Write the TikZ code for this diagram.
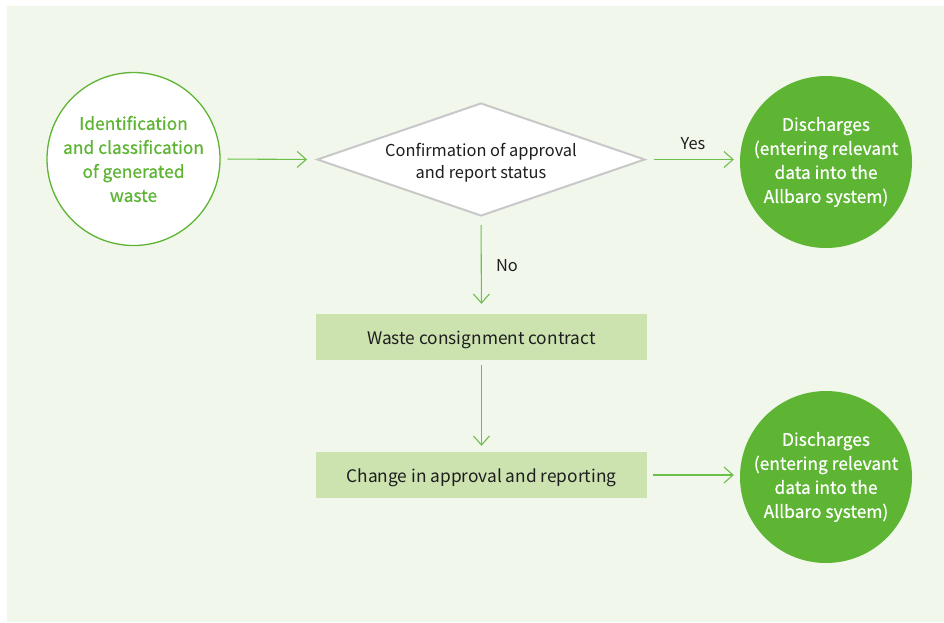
\documentclass[tikz,border=0pt]{standalone}
\usepackage{fontspec}
\setmainfont{Noto Sans CJK KR}
\newfontfamily\medfont[FakeBold=0.6]{Noto Sans CJK KR}
\usetikzlibrary{arrows.meta,shapes.geometric}
\definecolor{bggreen}{HTML}{F2F7EC}
\definecolor{circgreen}{HTML}{5DB533}
\definecolor{linegreen}{HTML}{6CC04A}
\definecolor{boxgreen}{HTML}{CCE3B0}
\definecolor{dgray}{HTML}{C8C8C8}
\definecolor{txt}{HTML}{1E1E1E}
\begin{document}
\begin{tikzpicture}[x=1pt,y=-1pt,
  conn/.style={draw=linegreen, line width=1.1pt, -{Straight Barb[length=9pt,width=16pt,line width=1.1pt]}},
  outcirc/.style={circle, draw=circgreen, line width=1.3pt, fill=white, minimum size=173pt, inner sep=0pt, align=center, text=circgreen, font=\medfont\fontsize{17.4pt}{24pt}\selectfont},
  fillcirc/.style={circle, fill=circgreen, minimum size=172pt, inner sep=0pt, align=center, text=white, font=\medfont\fontsize{17.4pt}{24pt}\selectfont},
  decbox/.style={diamond, draw=dgray, line width=2pt, fill=white, minimum width=328pt, minimum height=113pt, inner sep=0pt},
  stepbox/.style={rectangle, fill=boxgreen, minimum width=331pt, minimum height=46pt, inner sep=0pt, text=txt, text height=17pt, text depth=3pt, font=\fontsize{17.3pt}{22pt}\selectfont},
  lbl/.style={text=txt, font=\fontsize{16.4pt}{22pt}\selectfont, align=center}
]
\useasboundingbox (0,0) rectangle (944,622);
\fill[white] (0,0) rectangle (944,622);
\fill[bggreen] (7,6) rectangle (944,622);

\node[outcirc] (src) at (133.5,159) {Identification\\and classification\\of generated\\waste};
\node[decbox] (dec) at (481,159.5) {};
\node[lbl] (dect) at (481,163) {Confirmation of approval\\and report status};
\node[fillcirc] (dis1) at (826,162) {Discharges\\(entering relevant\\data into the\\Allbaro system)};
\node[stepbox] (con) at (481.5,337) {Waste consignment contract};
\node[stepbox] (chg) at (481.5,475) {Change in approval and reporting};
\node[fillcirc] (dis2) at (826,477) {Discharges\\(entering relevant\\data into the\\Allbaro system)};

\draw[conn, shorten <=7pt, shorten >=9pt] (src.east) -- (dec.west);
\draw[conn, shorten <=8pt, shorten >=6pt] (dec.east) -- (dec.east -| dis1.west) node[midway, above=6pt, lbl] (yes) {Yes};
\draw[conn, shorten <=8pt, shorten >=10pt] (dec.south) -- (con.north) node[midway, right=11pt, lbl] (no) {No};
\draw[conn, shorten <=5pt, shorten >=6pt] (con.south) -- (chg.north);
\draw[conn, shorten <=6pt, shorten >=6pt] (chg.east) -- (chg.east -| dis2.west);
\end{tikzpicture}
\end{document}
